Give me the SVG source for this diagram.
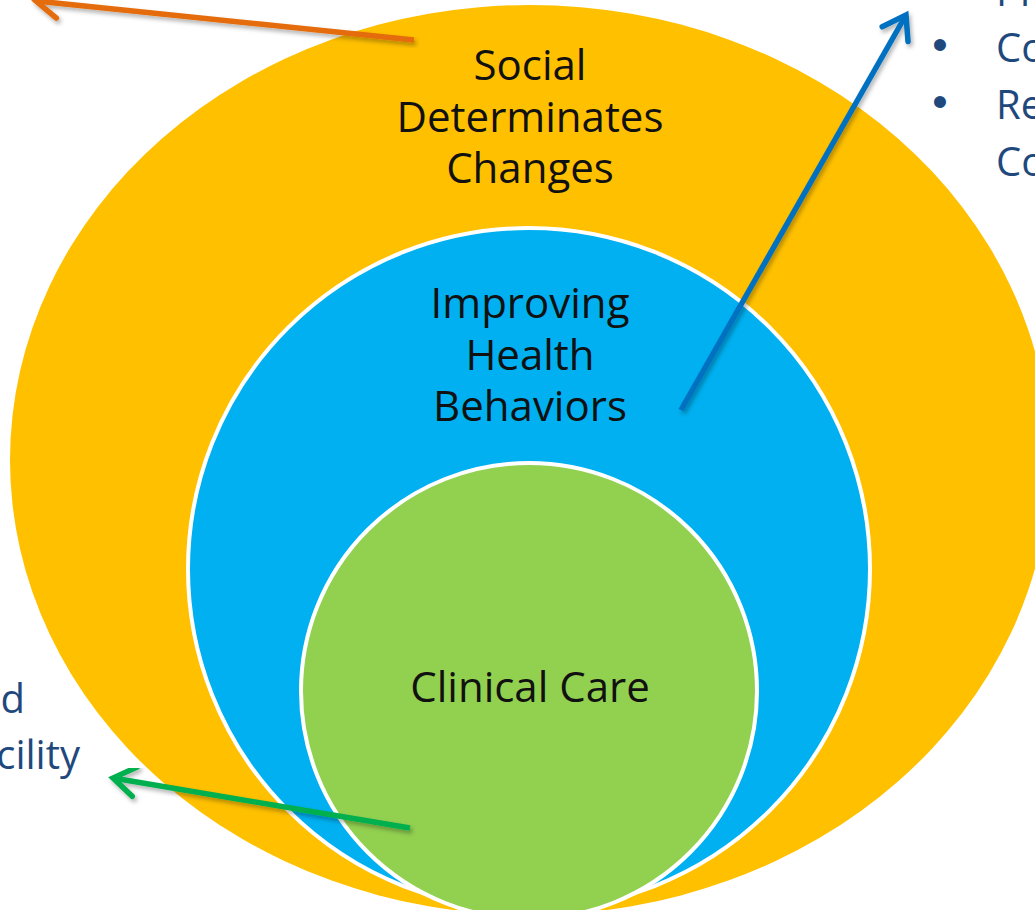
<svg xmlns="http://www.w3.org/2000/svg" width="1035" height="910" viewBox="0 0 1035 910">
<style>
.lbl{font-family:"Open Sans","Liberation Sans",sans-serif;font-size:42px;fill:#111;text-anchor:middle}
.side{font-family:"Open Sans","Liberation Sans",sans-serif;font-size:40px;fill:#1F497D}
.bul{font-family:"Liberation Sans",sans-serif;font-size:44px;fill:#1F497D;text-anchor:middle}
.conn{fill:none;stroke-width:5.5;stroke-linecap:butt;filter:url(#sh)}
</style>
<defs>
<filter id="sh" x="-20%" y="-20%" width="140%" height="140%">
<feDropShadow dx="2" dy="3" stdDeviation="2" flood-color="#000" flood-opacity="0.3"/>
</filter>
<marker id="aO" viewBox="-6 -4 8 8" markerWidth="8" markerHeight="8" refX="0" refY="0" orient="auto" markerUnits="strokeWidth">
<path d="M-4,-2.7 L0,0 L-4,2.7" fill="none" stroke="#E46C0A" stroke-width="1" stroke-linecap="round"/>
</marker>
<marker id="aB" viewBox="-6 -4 8 8" markerWidth="8" markerHeight="8" refX="0" refY="0" orient="auto" markerUnits="strokeWidth">
<path d="M-4,-2.7 L0,0 L-4,2.7" fill="none" stroke="#0070C0" stroke-width="1" stroke-linecap="round"/>
</marker>
<marker id="aG" viewBox="-6 -4 8 8" markerWidth="8" markerHeight="8" refX="0" refY="0" orient="auto" markerUnits="strokeWidth">
<path d="M-4,-2.7 L0,0 L-4,2.7" fill="none" stroke="#00B050" stroke-width="1" stroke-linecap="round"/>
</marker>
</defs>
<rect width="1035" height="910" fill="#fff"/>
<g id="social">
<ellipse cx="530" cy="460" rx="520" ry="455" fill="#FFC000"/>
<text class="lbl" x="530" y="80">Social</text>
<text class="lbl" x="530" y="132">Determinates</text>
<text class="lbl" x="530" y="183">Changes</text>
</g>
<g id="behaviors">
<circle cx="529" cy="569" r="341" fill="#00B0F0" stroke="#fff" stroke-width="4"/>
<text class="lbl" x="530" y="318">Improving</text>
<text class="lbl" x="530" y="370">Health</text>
<text class="lbl" x="530" y="421">Behaviors</text>
</g>
<g id="clinical">
<circle cx="529" cy="691" r="228" fill="#92D050" stroke="#fff" stroke-width="4"/>
<text class="lbl" x="530" y="702">Clinical Care</text>
</g>
<g id="right-list">
<text class="side" x="996" y="6">Pr</text>
<text class="bul" x="940" y="60">•</text>
<text class="side" x="996" y="62">Co</text>
<text class="bul" x="940" y="117">•</text>
<text class="side" x="996" y="119">Re</text>
<text class="side" x="996" y="176">Co</text>
</g>
<g id="left-list">
<text class="side" x="25" y="713" text-anchor="end">d</text>
<text class="side" x="80" y="769" text-anchor="end">cility</text>
</g>
<g id="connectors">
<line class="conn" x1="414" y1="40" x2="36" y2="1" stroke="#E46C0A" marker-end="url(#aO)"/>
<line class="conn" x1="681" y1="410" x2="906" y2="15" stroke="#0070C0" stroke-width="5" marker-end="url(#aB)"/>
<line class="conn" x1="410" y1="828" x2="113" y2="778" stroke="#00B050" marker-end="url(#aG)"/>
</g>
</svg>
